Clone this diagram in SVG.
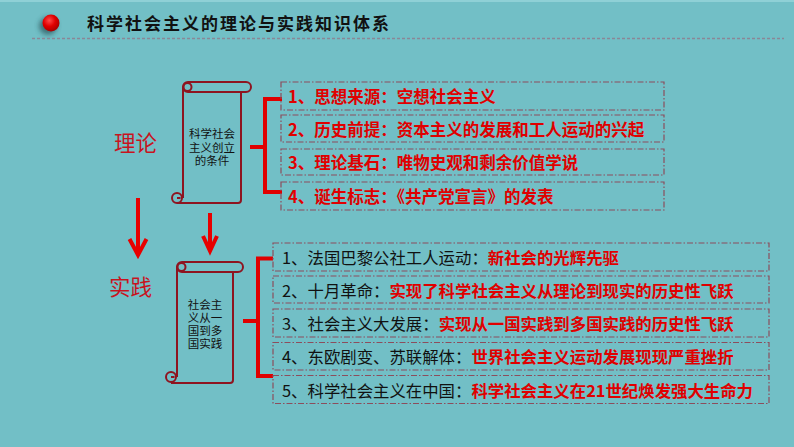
<svg xmlns="http://www.w3.org/2000/svg" width="794" height="447" viewBox="0 0 794 447">
<defs>
<style>
.title{font-family:"Noto Sans CJK SC","Noto Sans",sans-serif;font-size:17px;font-weight:bold;fill:#111;letter-spacing:2px}
.side{font-family:"Noto Sans CJK SC",sans-serif;font-size:21.5px;fill:#c8141e}
.scroll{fill:none;stroke:#8e1420;stroke-width:2}
.stext{font-family:"Noto Sans CJK SC",sans-serif;font-size:11.5px;fill:#111;text-anchor:middle;dominant-baseline:central}
.box{fill:none;stroke:#8c4d5c;stroke-width:1.2;stroke-dasharray:6 2 1.5 2}
.br{fill:none;stroke:#e00000;stroke-width:4}
.arr{fill:none;stroke:#e80000;stroke-width:4}
.t{font-family:"Noto Sans CJK SC",sans-serif;dominant-baseline:central}
.top{font-size:16.5px;fill:#e00000;font-weight:bold}
.bot{font-size:16.4px;fill:#111}
.red{fill:#e00000;font-weight:bold}
</style>
<radialGradient id="ball" cx="0.4" cy="0.35" r="0.7">
<stop offset="0" stop-color="#ff4a4a"/>
<stop offset="0.5" stop-color="#e00000"/>
<stop offset="1" stop-color="#a00000"/>
</radialGradient>
<filter id="blur" x="-1" y="-1" width="3" height="3"><feGaussianBlur stdDeviation="2.5"/></filter>
</defs>
<rect width="794" height="447" fill="#72bfc6"/>
<rect width="794" height="2" fill="#8fd0d6"/>
<g id="header">
<circle cx="48" cy="26" r="9" fill="#1d3f45" opacity="0.6" filter="url(#blur)"/>
<circle cx="51" cy="23" r="8.5" fill="url(#ball)"/>
<text class="title" x="87" y="29.5">科学社会主义的理论与实践知识体系</text>
<line x1="32" y1="38.5" x2="784" y2="38.5" stroke="#8a8796" stroke-width="1.5" stroke-dasharray="3 2"/>
</g>
<g id="label-theory"><text class="side" x="114" y="151">理论</text></g>
<g id="label-practice"><text class="side" x="109" y="295">实践</text></g>
<g id="scroll-conditions">
<rect class="scroll" x="183" y="82" width="68" height="10" rx="5"/>
<circle class="scroll" cx="187.5" cy="87" r="4"/>
<path class="scroll" d="M183,87 V198 M241,92 V200 Q241,203 238,203 H177"/>
<circle class="scroll" cx="177" cy="198" r="5"/>
<path class="scroll" stroke-width="1.5" d="M177,198 h3.5"/>
<text class="stext" x="212" y="133">科学社会</text>
<text class="stext" x="212" y="146.5">主义创立</text>
<text class="stext" x="212" y="159.5">的条件</text>
</g>
<g id="scroll-practice">
<rect class="scroll" x="177" y="262" width="66" height="10" rx="5"/>
<circle class="scroll" cx="181.5" cy="267" r="4"/>
<path class="scroll" d="M177,267 V377 M233,272 V380 Q233,383 230,383 H171"/>
<circle class="scroll" cx="171" cy="377" r="5"/>
<path class="scroll" stroke-width="1.5" d="M171,377 h3.5"/>
<text class="stext" x="205" y="304">社会主</text>
<text class="stext" x="205" y="317">义从一</text>
<text class="stext" x="205" y="330">国到多</text>
<text class="stext" x="205" y="343">国实践</text>
</g>
<g id="connectors">
<path class="br" d="M250,147 H265 M282,99 H265 V192 H282"/>
<path class="br" d="M243,321 H258 M273,258.5 H258 V376 H273"/>
<path class="arr" d="M138,198 V254 M129.5,239 L138,255 L146.5,239"/>
<path class="arr" d="M210,213 V250 M203,236 L210,251 L217,236"/>
</g>
<g id="theory-items">
<g id="t1"><rect class="box" x="281" y="82" width="383" height="28"/><text class="t top" x="288" y="96">1、思想来源：空想社会主义</text></g>
<g id="t2"><rect class="box" x="281" y="115" width="383" height="27"/><text class="t top" x="288" y="128.5">2、历史前提：资本主义的发展和工人运动的兴起</text></g>
<g id="t3"><rect class="box" x="281" y="149" width="383" height="26"/><text class="t top" x="288" y="162">3、理论基石：唯物史观和剩余价值学说</text></g>
<g id="t4"><rect class="box" x="281" y="182" width="383" height="28"/><text class="t top" x="288" y="196">4、诞生标志：《共产党宣言》的发表</text></g>
</g>
<g id="practice-items">
<g id="p1"><rect class="box" x="273" y="243" width="496" height="28"/><text class="t bot" x="282" y="257">1、法国巴黎公社工人运动：<tspan class="red">新社会的光辉先驱</tspan></text></g>
<g id="p2"><rect class="box" x="273" y="276" width="496" height="27"/><text class="t bot" x="282" y="289.5">2、十月革命：<tspan class="red">实现了科学社会主义从理论到现实的历史性飞跃</tspan></text></g>
<g id="p3"><rect class="box" x="273" y="309" width="496" height="28"/><text class="t bot" x="282" y="323">3、社会主义大发展：<tspan class="red">实现从一国实践到多国实践的历史性飞跃</tspan></text></g>
<g id="p4"><rect class="box" x="273" y="342.5" width="496" height="27.5"/><text class="t bot" x="282" y="356">4、东欧剧变、苏联解体：<tspan class="red">世界社会主义运动发展现现严重挫折</tspan></text></g>
<g id="p5"><rect class="box" x="273" y="375.5" width="496" height="28"/><text class="t bot" x="282" y="389.5">5、科学社会主义在中国：<tspan class="red">科学社会主义在21世纪焕发强大生命力</tspan></text></g>
</g>
</svg>
